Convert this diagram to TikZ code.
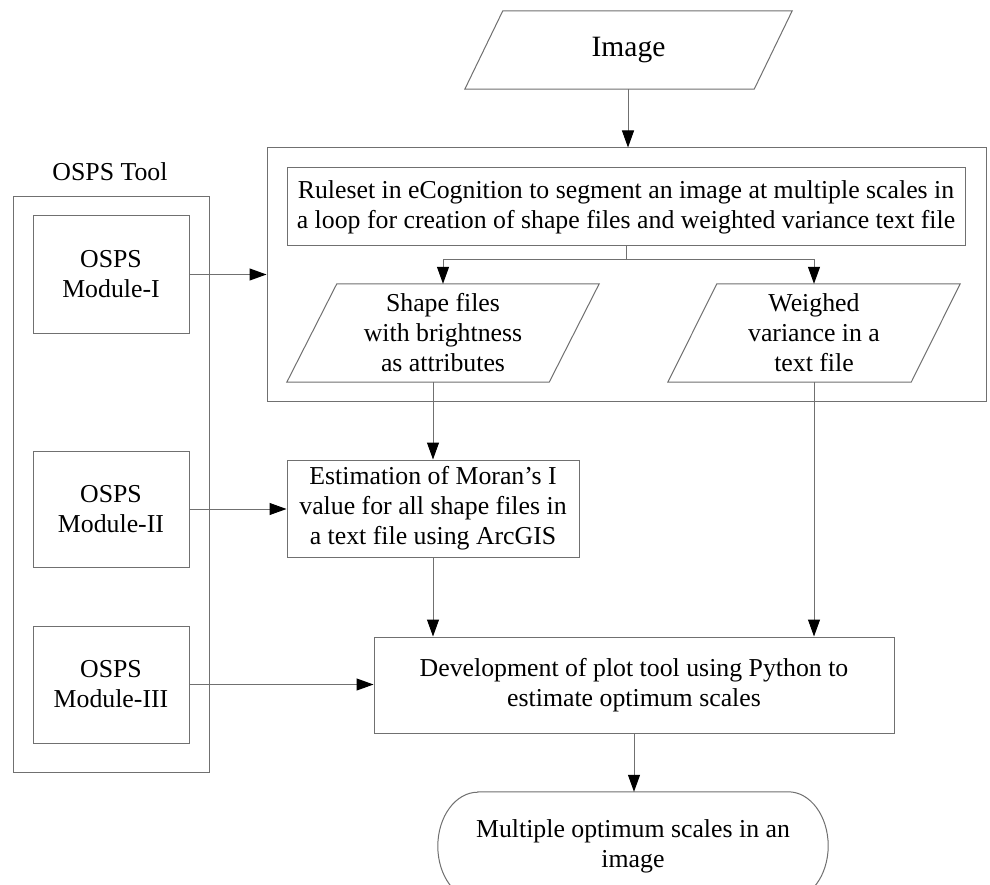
\documentclass[tikz,border=0pt]{standalone}
\usepackage{fontspec}
\setmainfont{Liberation Serif}
\usetikzlibrary{arrows.meta,calc}
\definecolor{linegray}{RGB}{112,112,112}
\begin{document}
\begin{tikzpicture}[x=1pt,y=-1pt,
  line/.style={draw=linegray, line width=1pt},
  arr/.style={draw=linegray, line width=1pt, -{Triangle[length=17pt,width=12pt,color=black]}},
  txt/.style={inner sep=0pt, align=center, font=\fontsize{25.8}{30}\selectfont},
  box/.style={txt, draw=linegray, line width=1pt, rectangle},
  shapebox/.style={txt, rectangle},
]
\clip (0,0) rectangle (990,885);
\fill[white] (0,0) rectangle (990,885);

% OSPS tool column
\node[txt] (tooltitle) at (110,172) {OSPS Tool};
\node[box, minimum width=196pt, minimum height=575pt] (tool) at (111,484.5) {};
\node[box, minimum width=156pt, minimum height=117pt] (m1) at (111,274.5) {OSPS\\Module-I};
\node[box, minimum width=156pt, minimum height=116pt] (m2) at (111,509) {OSPS\\Module-II};
\node[box, minimum width=156pt, minimum height=117pt] (m3) at (111,684.5) {OSPS\\Module-III};

% input image
\node[shapebox, minimum width=327pt, minimum height=78pt, font=\fontsize{29.5}{34}\selectfont] (img) at (628.5,50) {Image};
\draw[line] ([xshift=38pt]img.north west) -- (img.north east)
  -- ([xshift=-38pt]img.south east) -- (img.south west) -- cycle;

% segmentation group
\node[box, minimum width=719pt, minimum height=253pt] (grp) at (626.5,274.5) {};
\node[box, minimum width=678pt, minimum height=78pt] (rule) at (626,207)
  {Ruleset in eCognition to segment an image at multiple scales in\\a loop for creation of shape files and weighted variance text file};
\node[shapebox, minimum width=312pt, minimum height=98pt] (shp) at (443,333)
  {Shape files\\with brightness\\as attributes};
\draw[line] ([xshift=50pt]shp.north west) -- (shp.north east)
  -- ([xshift=-50pt]shp.south east) -- (shp.south west) -- cycle;
\node[shapebox, minimum width=292pt, minimum height=98pt] (wv) at (814,333)
  {Weighed\\variance in a\\text file};
\draw[line] ([xshift=49pt]wv.north west) -- (wv.north east)
  -- ([xshift=-49pt]wv.south east) -- (wv.south west) -- cycle;

% processing steps
\node[box, minimum width=292pt, minimum height=97pt] (mor) at (433,508.5)
  {Estimation of Moran’s I\\value for all shape files in\\a text file using ArcGIS};
\node[box, minimum width=520pt, minimum height=96pt] (dev) at (634,685)
  {Development of plot tool using Python to\\estimate optimum scales};

% terminal output
\node[shapebox, minimum width=390pt, minimum height=108pt] (term) at (633,846) {};
\draw[line] ([xshift=40pt]term.north west) -- ([xshift=-40pt]term.north east)
  arc[start angle=90, end angle=-90, x radius=40pt, y radius=54pt]
  -- ([xshift=40pt]term.south west)
  arc[start angle=270, end angle=90, x radius=40pt, y radius=54pt] -- cycle;
\node[txt] (termtext) at (633,846) {Multiple optimum scales in an\\image};

% connectors
\draw[arr] (img.south -| 628,0) -- (628,0 |- grp.north);
\draw[arr] (m1.east) -- (m1.east -| grp.west);
\coordinate (split) at ($(rule.south)+(0,13)$);
\draw[line] (rule.south) -- (split);
\draw[arr] (split) -| (shp.north);
\draw[arr] (split) -| (wv.north);
\draw[arr] (mor.north |- shp.south) -- (mor.north);
\draw[arr] (wv.south) -- (wv.south |- dev.north);
\draw[arr] (m2.east) -- (m2.east -| mor.west);
\draw[arr] (mor.south) -- (mor.south |- dev.north);
\draw[arr] (m3.east) -- (m3.east -| dev.west);
\draw[arr] (dev.south) -- (dev.south |- term.north);
\end{tikzpicture}
\end{document}
